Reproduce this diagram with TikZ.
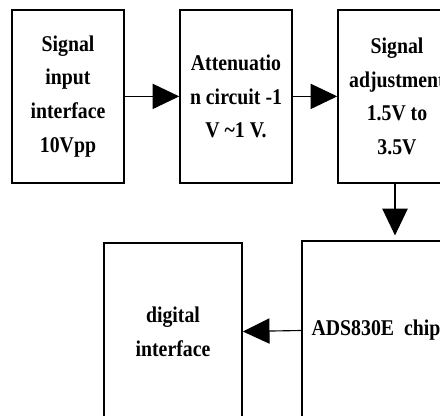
\documentclass[tikz,border=0pt]{standalone}
\usepackage{fontspec}
\setmainfont{Liberation Serif}[FakeStretch=0.88]
\usepackage{tikz}
\usetikzlibrary{arrows.meta}
\usetikzlibrary{calc}

\tikzset{
  block/.style={draw, line width=1.1pt, align=center, inner sep=2pt,
    font=\fontsize{16}{24}\selectfont\bfseries},
  flow/.style={line width=0.8pt, -{Triangle[length=19pt,width=18pt]}}
}

\begin{document}
\begin{tikzpicture}[x=1cm,y=1cm]
      \clip (0,0) rectangle (11,10.4);

      % top row
      \node[block, minimum width=2.8cm, minimum height=4.325cm] (input) at (1.7,7.99)
        {Signal\\input\\interface\\10Vpp};
      \node[block, minimum width=2.8cm, minimum height=4.325cm] (atten) at (5.9,7.99)
        {Attenuatio\\n circuit -1\\V \textasciitilde1 V.};
      \node[block, minimum width=2.95cm, minimum height=4.325cm] (adjust) at (9.925,7.99)
        {Signal\\adjustment\\1.5V to\\3.5V};

      % bottom row
      \node[block, minimum width=3.7cm, minimum height=4.475cm] (adc) at (9.4,2.1375)
        {ADS830E\ \ chip};
      \node[block, minimum width=3.45cm, minimum height=4.425cm] (digital) at (4.325,2.1125)
        {digital\\interface};

      % connections
      \coordinate (drop) at ($(adjust.south)+(-0.05,0)$);
      \draw[flow] (input.east) -- (atten.west);
      \draw[flow] (atten.east) -- (adjust.west);
      \draw[flow] (drop) -- ($(drop |- adc.north)+(0,0.12)$);
      \draw[flow] (adc.west) -- (digital.east);
    \end{tikzpicture}
\end{document}
